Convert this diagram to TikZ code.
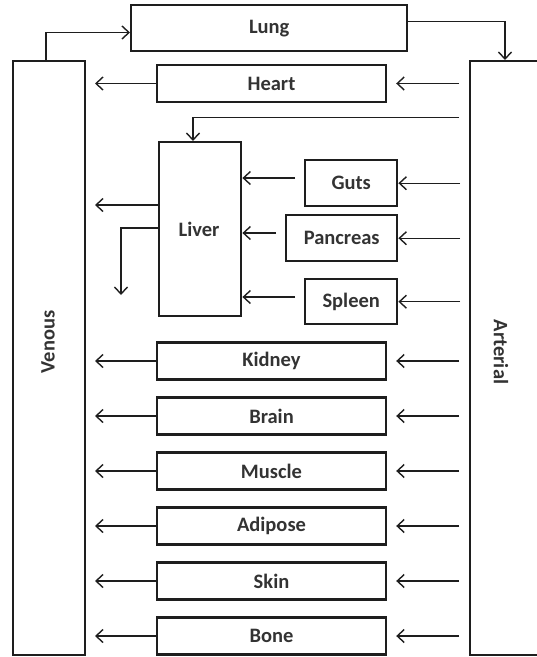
\documentclass[tikz,border=0pt]{standalone}
\usepackage{fontspec}
\setmainfont{Carlito}
\usetikzlibrary{arrows.meta}
\definecolor{ln}{HTML}{1E1E1E}
\definecolor{tx}{HTML}{333333}
\tikzset{
  box/.style={draw=ln, line width=2.4pt, fill=none, inner sep=0pt, font=\fontsize{20.5}{22}\selectfont\bfseries, text=tx},
  flow/.style={draw=ln, line width=1.4pt, -{Straight Barb[length=7pt,width=13pt,line width=1.4pt]}},
}
\begin{document}
\begin{tikzpicture}[x=1pt,y=-1pt]
\useasboundingbox (0,0) rectangle (537,657);
\begin{scope}
\clip (0,0) rectangle (537,657);
% side boxes
\node[box, minimum width=72pt, minimum height=594pt, anchor=north west] (ven) at (12,60) {};
\node[box, minimum width=100pt, minimum height=594pt, anchor=north west] (art) at (469,60) {};
\end{scope}
\node[text=tx, font=\fontsize{20.5}{22}\selectfont\bfseries, rotate=90] (venlab) at (48,342) {Venous};
\node[text=tx, font=\fontsize{20.5}{22}\selectfont\bfseries, rotate=-90] (artlab) at (501,352) {Arterial};
% lung
\node[box, minimum width=276pt, minimum height=46pt, anchor=north west] (lung) at (130,4) {Lung};
% wide organs
\node[box, minimum width=229pt, minimum height=37pt] (heart) at (271.5,83.5) {Heart};
\node[box, minimum width=229pt, minimum height=37pt] (kidney) at (271.5,361) {Kidney};
\node[box, minimum width=229pt, minimum height=37pt] (brain) at (271.5,416) {Brain};
\node[box, minimum width=229pt, minimum height=37pt] (muscle) at (271.5,471) {Muscle};
\node[box, minimum width=229pt, minimum height=37pt] (adipose) at (271.5,526) {Adipose};
\node[box, minimum width=229pt, minimum height=37pt] (skin) at (271.5,581) {Skin};
\node[box, minimum width=229pt, minimum height=37pt] (bone) at (271.5,636) {Bone};
% liver group
\node[box, minimum width=82pt, minimum height=174pt, anchor=north west] (liver) at (158,141) {};
\node[text=tx, font=\fontsize{20.5}{22}\selectfont\bfseries] (liverlab) at (199,229) {Liver};
\node[box, minimum width=92pt, minimum height=46pt, anchor=north west] (guts) at (304,159) {Guts};
\node[box, minimum width=111pt, minimum height=46pt, anchor=north west] (pancreas) at (285,214) {Pancreas};
\node[box, minimum width=92pt, minimum height=45pt, anchor=north west] (spleen) at (304,278) {Spleen};
% lung connections
\draw[flow] (46,60) |- (lung.west |- 0,32.5);
\draw[flow] (lung.east |- 0,21.5) -| (505,60);
% arterial to organs and organs to venous
\foreach \o in {heart,kidney,brain,muscle,adipose,skin,bone}{
  \draw[flow] (459,0 |- \o.center) -- ([xshift=9pt]\o.east);
  \draw[flow] (\o.west) -- (95,0 |- \o.center);
}
% liver feed
\draw[flow] (459,117.5) -| (193,141);
% splanchnic
\draw[flow] (460,0 |- guts.center) -- (guts.east);
\draw[flow] (460,0 |- pancreas.center) -- (pancreas.east);
\draw[flow] (460,0 |- spleen.center) -- (spleen.east);
\draw[flow] (295,178) -- (liver.east |- 0,178);
\draw[flow] (276,233) -- (liver.east |- 0,233);
\draw[flow] (295,297) -- (liver.east |- 0,297);
% liver out
\draw[flow] (liver.west |- 0,205) -- (95,205);
\draw[flow] (liver.west |- 0,228) -| (121,295);
\end{tikzpicture}
\end{document}
